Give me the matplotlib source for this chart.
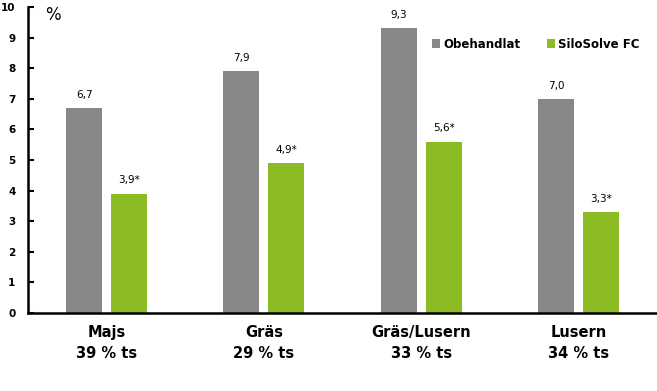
import matplotlib
matplotlib.use("Agg")
import matplotlib.pyplot as plt
import numpy as np

categories = ["Majs\n39 % ts", "Gräs\n29 % ts", "Gräs/Lusern\n33 % ts", "Lusern\n34 % ts"]
obehandlat = [6.7, 7.9, 9.3, 7.0]
silosolve = [3.9, 4.9, 5.6, 3.3]
obehandlat_labels = ["6,7", "7,9", "9,3", "7,0"]
silosolve_labels = ["3,9*", "4,9*", "5,6*", "3,3*"]
yticks = list(range(0, 11))

gray = "#878787"
green = "#8CBB26"

plt.rcParams['font.family'] = ['DejaVu Sans']
fig = plt.figure(figsize=(6.57, 3.91), dpi=100)
ax = fig.add_axes([0.0426, 0.1995, 0.9574, 0.7825])

x = np.arange(len(categories))
w = 0.229
off = 0.143
ax.bar(x - off, obehandlat, w, color=gray, label="Obehandlat")
ax.bar(x + off, silosolve, w, color=green, label="SiloSolve FC")

for xi, v, t in zip(x - off, obehandlat, obehandlat_labels):
    ax.text(xi, v + 0.27, t, ha="center", va="bottom", fontsize=7.5)
for xi, v, t in zip(x + off, silosolve, silosolve_labels):
    ax.text(xi, v + 0.27, t, ha="center", va="bottom", fontsize=7.5)

ax.set_xlim(-0.5, 3.5)
ax.set_ylim(0, 10)
ax.set_yticks(yticks)
ax.set_yticklabels([str(t) for t in yticks], fontweight="bold", fontsize=7.5)
ax.set_xticks(x)
ax.set_xticklabels(categories, fontweight="bold", fontsize=10.5, linespacing=1.5)
ax.tick_params(axis="x", length=0, pad=9)
ax.tick_params(axis="y", direction="in", length=4, width=1.5, pad=9)

for s in ["top", "right"]:
    ax.spines[s].set_visible(False)
ax.spines["left"].set_linewidth(1.8)
ax.spines["bottom"].set_linewidth(1.8)

ax.text(0.027, 1.005, "%", transform=ax.transAxes, fontsize=12, va="top", ha="left")

ax.legend(loc="upper left", bbox_to_anchor=(0.625, 0.935), ncol=2, frameon=False,
          prop={"weight": "bold", "size": 8.5}, handlelength=0.7, handleheight=0.7,
          handletextpad=0.3, columnspacing=2.2)

fig.savefig("out.png", dpi=100)
